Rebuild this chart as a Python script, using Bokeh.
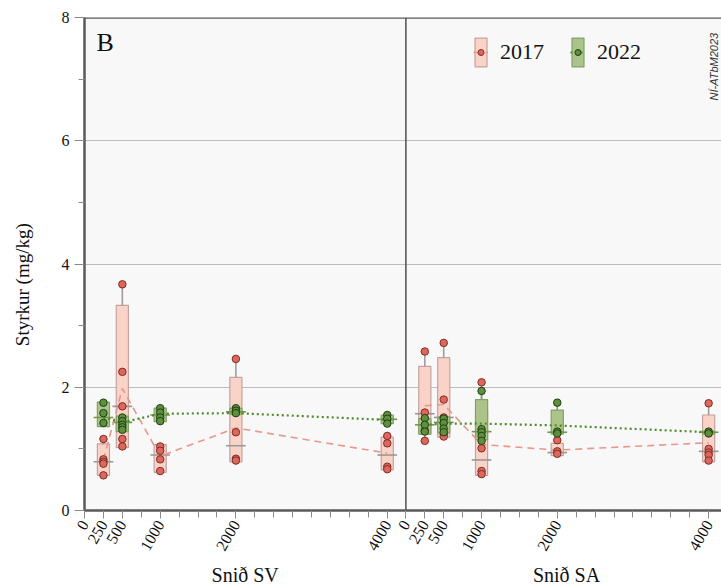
import math
from bokeh.plotting import figure
from bokeh.layouts import row, column
from bokeh.models import (FixedTicker, Range1d, Legend, LegendItem, Label, Span)
from bokeh.core.properties import value
from bokeh.embed import file_html
from bokeh.resources import INLINE

# ---------------- data ----------------
distances = [250, 500, 1000, 2000, 4000]
x_major_ticks = [0, 250, 500, 1000, 2000, 4000]
x_minor_step = 250
y_major_ticks = [0, 2, 4, 6, 8]
y_minor_ticks = [1, 3, 5, 7]
y_grid_ticks = [2, 4, 6]

# Snið SV - 2017
sv17_points = [[1.16, 0.83, 0.79, 0.76, 0.57],
               [3.67, 2.25, 1.69, 1.16, 1.04],
               [1.04, 0.97, 0.83, 0.64],
               [2.46, 1.27, 0.84, 0.81],
               [1.21, 1.09, 0.71, 0.67]]
sv17_q1 = [0.57, 1.02, 0.62, 0.79, 0.66]
sv17_median = [0.79, 1.69, 0.90, 1.05, 0.90]
sv17_q3 = [1.08, 3.33, 1.07, 2.16, 1.19]
sv17_mean = [0.82, 1.98, 0.88, 1.34, 0.93]

# Snið SV - 2022
sv22_points = [[1.75, 1.58, 1.42],
               [1.51, 1.45, 1.39, 1.35, 1.31],
               [1.66, 1.59, 1.51, 1.45],
               [1.66, 1.62, 1.58],
               [1.55, 1.49, 1.41]]
sv22_q1 = [1.36, 1.28, 1.44, 1.56, 1.41]
sv22_median = [1.51, 1.43, 1.55, 1.60, 1.48]
sv22_q3 = [1.76, 1.53, 1.66, 1.66, 1.55]
sv22_mean = [1.51, 1.43, 1.57, 1.58, 1.47]

# Snið SA - 2017
sa17_points = [[2.58, 1.59, 1.30, 1.13],
               [2.72, 1.80, 1.51, 1.24, 1.20],
               [2.08, 1.01, 0.64, 0.59],
               [1.14, 0.96, 0.92],
               [1.74, 1.00, 0.94, 0.90, 0.81]]
sa17_q1 = [1.24, 1.19, 0.57, 0.89, 0.79]
sa17_median = [1.57, 1.51, 0.82, 0.94, 0.96]
sa17_q3 = [2.34, 2.48, 1.62, 1.09, 1.55]
sa17_mean = [1.70, 1.72, 1.07, 0.98, 1.10]

# Snið SA - 2022
sa22_points = [[1.50, 1.39, 1.28],
               [1.49, 1.42, 1.33, 1.27],
               [1.94, 1.32, 1.27, 1.21, 1.13],
               [1.75, 1.28, 1.25],
               [1.28, 1.25]]
sa22_q1 = [1.24, 1.26, 1.15, 1.24, 1.24]
sa22_median = [1.39, 1.43, 1.28, 1.27, 1.27]
sa22_q3 = [1.49, 1.52, 1.80, 1.63, 1.29]
sa22_mean = [1.39, 1.41, 1.41, 1.38, 1.27]

years = ["2017", "2022"]
panel_titles = ["Snið SV", "Snið SA"]
y_label = "Styrkur (mg/kg)"
panel_letter = "B"
credit = "NÍ-ATbM2023"

# ---------------- layout / styling ----------------
SV_WIDTH = 4246          # x extent of the SV panel (metres)
SA_WIDTH = 4170          # visible x extent of the SA panel
SA_OFFSET = SV_WIDTH     # SA panel starts where SV ends

FONT = "Liberation Serif"
BOX_W = 160
MED_W = 260
YLAB_W = 40
XLAB_H = 28
STY = {
    "2017": dict(fill="#f9d3c8", edge="#c6a29e", whisk="#a59a9a", med="#9b9696",
                 pt="#df665b", ptl="#7a2e2a", line="#e8978a", dash="7 5", lw=1.6),
    "2022": dict(fill="#abc48a", edge="#83a066", whisk="#8c9c80", med="#6c9a44",
                 pt="#5e8f3e", ptl="#1f3f12", line="#4f8a2c", dash="2 3", lw=2.2),
}

x_range = Range1d(0, SV_WIDTH + SA_WIDTH)
p = figure(width=721 - YLAB_W, height=586 - XLAB_H, x_range=x_range,
           y_range=Range1d(0, 8), output_backend="svg", toolbar_location=None,
           min_border_left=84 - YLAB_W, min_border_right=0, min_border_top=17,
           min_border_bottom=76 - XLAB_H)
p.background_fill_color = "#f8f8f8"
p.border_fill_color = "white"
p.outline_line_color = None
p.xgrid.visible = False
p.ygrid.ticker = FixedTicker(ticks=y_grid_ticks)
p.ygrid.grid_line_color = "#bdbdbd"
p.ygrid.grid_line_width = 1

# x axis: two panels share one axis, SA ticks are shifted by SA_OFFSET
sa_major = [SA_OFFSET + t for t in x_major_ticks]
sv_minor = list(range(0, SV_WIDTH, x_minor_step))
sa_minor = [SA_OFFSET + t for t in range(0, SA_WIDTH, x_minor_step)]
xa = p.xaxis[0]
xa.ticker = FixedTicker(ticks=x_major_ticks + sa_major, minor_ticks=sv_minor + sa_minor)
xa.major_label_overrides = {SA_OFFSET + t: str(t) for t in x_major_ticks}
xa.major_label_text_font = FONT
xa.major_label_text_font_size = "16px"
xa.major_label_text_color = "#111111"
xa.major_label_orientation = math.pi / 3
xa.major_label_standoff = 3
xa.axis_line_color = "#5a5a5a"
xa.axis_line_width = 2.5
xa.major_tick_line_color = "#8a8a8a"
xa.minor_tick_line_color = "#8a8a8a"
xa.major_tick_in = 0
xa.minor_tick_in = 0
xa.major_tick_out = 8
xa.minor_tick_out = 7

ya = p.yaxis[0]
ya.ticker = FixedTicker(ticks=y_major_ticks, minor_ticks=y_minor_ticks)
ya.major_label_text_font = FONT
ya.major_label_text_font_size = "16px"
ya.major_label_text_color = "#111111"
ya.major_label_standoff = 5
ya.axis_line_color = "#5a5a5a"
ya.axis_line_width = 2.5
ya.major_tick_line_color = "#8a8a8a"
ya.minor_tick_line_color = "#8a8a8a"
ya.major_tick_in = 0
ya.minor_tick_in = 0
ya.major_tick_out = 10
ya.minor_tick_out = 6

# frame lines: top border and panel divider
p.add_layout(Span(location=y_major_ticks[-1], dimension="width", line_color="#5a5a5a", line_width=2.5))
p.add_layout(Span(location=SA_OFFSET, dimension="height", line_color="#5a5a5a", line_width=1.6))


def draw_boxes(xs, pts, q1, med, q3, sty):
    bar = p.vbar(x=xs, bottom=q1, top=q3, width=BOX_W,
                 fill_color=sty["fill"], line_color=sty["edge"], line_width=1.2)
    wx, wy0, wy1 = [], [], []
    for x, lst, a, b in zip(xs, pts, q1, q3):
        hi, lo = max(lst), min(lst)
        if hi > b:
            wx.append(x); wy0.append(b); wy1.append(hi)
        if lo < a:
            wx.append(x); wy0.append(a); wy1.append(lo)
    p.segment(x0=wx, x1=wx, y0=wy0, y1=wy1, line_color=sty["whisk"], line_width=1.6)
    p.segment(x0=[x - MED_W / 2 for x in xs], x1=[x + MED_W / 2 for x in xs],
              y0=med, y1=med, line_color=sty["med"], line_width=1.6)
    return bar


def draw_line(xs, mean, sty):
    return p.line(xs, mean, line_color=sty["line"], line_dash=sty["dash"], line_width=sty["lw"])


def draw_points(xs, pts, sty):
    px, py = [], []
    for x, lst in zip(xs, pts):
        px += [x] * len(lst)
        py += lst
    return p.scatter(px, py, size=7.5, fill_color=sty["pt"], line_color=sty["ptl"], line_width=1)


def fill_panel(offset, d17, d22):
    xs = [offset + d for d in distances]
    s17, s22 = STY["2017"], STY["2022"]
    b17 = draw_boxes(xs, d17[0], d17[1], d17[2], d17[3], s17)
    b22 = draw_boxes(xs, d22[0], d22[1], d22[2], d22[3], s22)
    l17 = draw_line(xs, d17[4], s17)
    l22 = draw_line(xs, d22[4], s22)
    p17 = draw_points(xs, d17[0], s17)
    p22 = draw_points(xs, d22[0], s22)
    return (b17, l17, p17), (b22, l22, p22)


fill_panel(0, (sv17_points, sv17_q1, sv17_median, sv17_q3, sv17_mean),
           (sv22_points, sv22_q1, sv22_median, sv22_q3, sv22_mean))
r17, r22 = fill_panel(SA_OFFSET, (sa17_points, sa17_q1, sa17_median, sa17_q3, sa17_mean),
                      (sa22_points, sa22_q1, sa22_median, sa22_q3, sa22_mean))

legend = Legend(items=[LegendItem(label=years[0], renderers=list(r17)),
                       LegendItem(label=years[1], renderers=list(r22))],
                location=(389, 440), orientation="horizontal",
                glyph_width=15, glyph_height=36, label_standoff=12, spacing=26,
                padding=0, margin=0, border_line_color=None, background_fill_alpha=0,
                label_text_font=FONT, label_text_font_size="22px", label_text_color="#111111")
p.add_layout(legend)

p.add_layout(Label(x=12, y=483, x_units="screen", y_units="screen", text=panel_letter,
                   text_font=FONT, text_font_size="26px", text_color="#111111",
                   text_baseline="top"))
p.add_layout(Label(x=629, y=410, x_units="screen", y_units="screen", text=credit,
                   angle=math.pi / 2, text_font="Liberation Sans", text_font_style="italic",
                   text_font_size="11px", text_color="#333333", text_baseline="middle"))


def blank_fig(width, height, xr, yr, left=0):
    f = figure(width=width, height=height, x_range=xr, y_range=yr,
               output_backend="svg", toolbar_location=None,
               x_axis_location=None, y_axis_location=None,
               min_border_left=left, min_border_right=0, min_border_top=0, min_border_bottom=0)
    f.grid.visible = False
    f.outline_line_color = None
    f.background_fill_color = "white"
    f.border_fill_color = "white"
    return f


# x-axis titles under each panel
p_xlab = blank_fig(721 - YLAB_W, XLAB_H, x_range, Range1d(0, 1), left=84 - YLAB_W)
p_xlab.text(x=[SV_WIDTH / 2, SA_OFFSET + SV_WIDTH / 2], y=[0.42, 0.42], text=panel_titles,
            text_font=value(FONT), text_font_size="20px", text_color="#111111",
            text_align="center", text_baseline="middle")

# y-axis title
p_ylab = blank_fig(YLAB_W, 586, Range1d(0, 1), Range1d(0, 1))
p_ylab.text(x=[0.55], y=[0.515], text=[y_label], angle=math.pi / 2,
            text_font=value(FONT), text_font_size="19px", text_color="#111111",
            text_align="center", text_baseline="middle")

layout = row(p_ylab, column(p, p_xlab))
open("out.html", "w").write(file_html(layout, INLINE))
